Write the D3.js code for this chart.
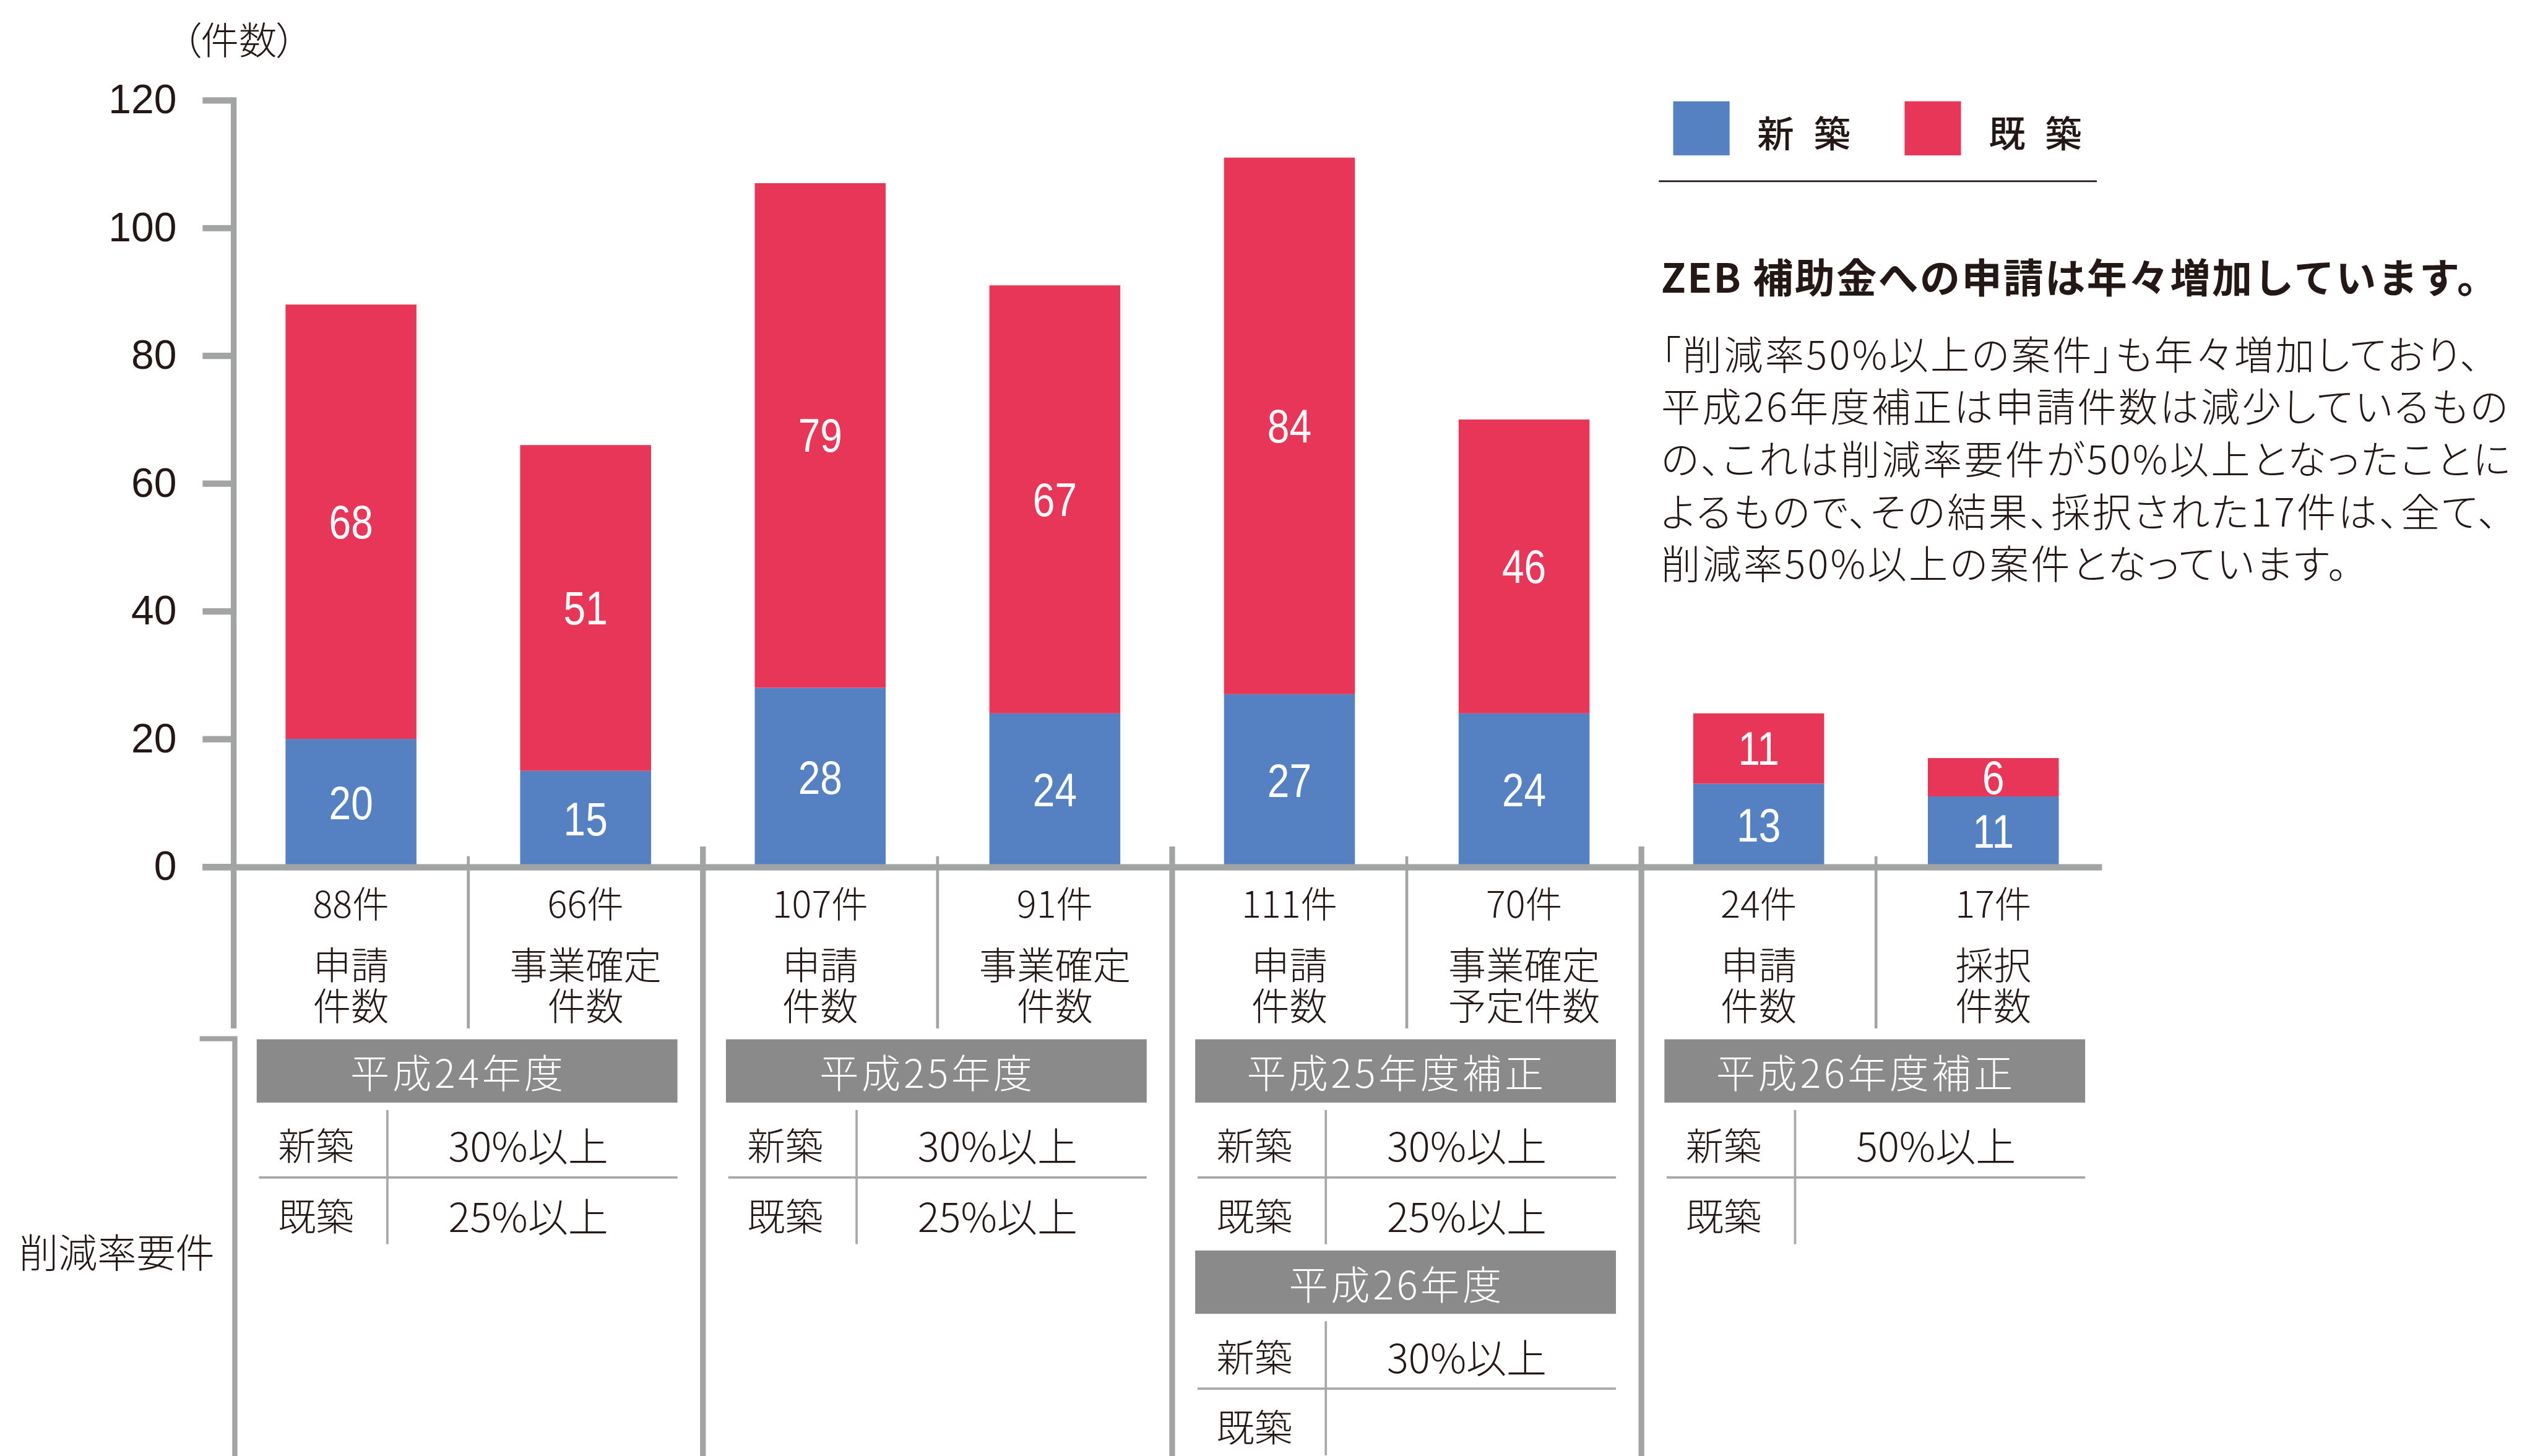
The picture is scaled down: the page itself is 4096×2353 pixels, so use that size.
<!DOCTYPE html>
<html>
<head>
<meta charset="UTF-8">
<script src="https://d3js.org/d3.v7.min.js"></script>
<style>
  body { margin: 0; background: #fff; }
  text { font-family: "Noto Sans CJK JP", sans-serif; fill: #231815; font-weight: 300; }
  .num { font-family: "Liberation Sans", Arial, sans-serif; font-weight: 400; }
  .palt { font-feature-settings: "palt"; }
</style>
</head>
<body>
<svg id="canvas"></svg>
<script>

width = 4096;
height = 2353;
k = 0.93;   // reference is 4404 wide, draw at 0.93

// bar data
totals = [88, 66, 107, 91, 111, 70, 24, 17];
newBuild = [20, 15, 28, 24, 27, 24, 13, 11];
existing = [68, 51, 79, 67, 84, 46, 11, 6];
colLabels = [["申請","件数"], ["事業確定","件数"], ["申請","件数"], ["事業確定","件数"],
             ["申請","件数"], ["事業確定","予定件数"], ["申請","件数"], ["採択","件数"]];
yTicks = [0, 20, 40, 60, 80, 100, 120];
seriesNames = ["新築", "既築"];
colors = ["#5580c1", "#e73658"];

// requirement table
periods = ["平成24年度", "平成25年度", "平成25年度補正", "平成26年度", "平成26年度補正"];
periodGroup = [0, 1, 2, 2, 3];
periodSlot = [0, 0, 0, 1, 0];
reqNew = ["30%以上", "30%以上", "30%以上", "30%以上", "50%以上"];
reqExisting = ["25%以上", "25%以上", "25%以上", "", ""];
rowNames = ["新築", "既築"];

note = ["「削減率50%以上の案件」も年々増加しており、",
        "平成26年度補正は申請件数は減少しているもの",
        "の、これは削減率要件が50%以上となったことに",
        "よるもので、その結果、採択された17件は、全て、",
        "削減率50%以上の案件となっています。"];
title = "ZEB 補助金への申請は年々増加しています。";

grey = "#a2a3a3";

svg = d3.select("#canvas").attr("width", width).attr("height", height);
canvas = svg.append("g").attr("transform", `scale(${k})`);

y = d3.scaleLinear().domain([0, 120]).range([1506, 174]);
colX = d3.scaleBand().domain(d3.range(8)).range([406, 3667]);
barW = colX.bandwidth() * 0.558;

rows = totals.map((t, i) => ({i: i, new: newBuild[i], old: existing[i]}));
stack = d3.stack().keys(["new", "old"])(rows);

// bars
layers = canvas.selectAll("g.layer").data(stack).join("g")
    .attr("class", "layer")
    .attr("fill", (d, i) => colors[i]);

layers.selectAll("rect").data(d => d).join("rect")
    .attr("x", d => colX(d.data.i) + (colX.bandwidth() - barW) / 2)
    .attr("y", d => y(d[1]))
    .attr("width", barW)
    .attr("height", d => y(d[0]) - y(d[1]));

layers.selectAll("text").data(d => d).join("text")
    .attr("class", "num")
    .attr("transform", d => `translate(${colX(d.data.i) + colX.bandwidth() / 2},${(y(d[0]) + y(d[1])) / 2}) scale(0.84,1)`)
    .attr("text-anchor", "middle")
    .attr("dominant-baseline", "central")
    .style("fill", "#fff")
    .style("font-size", "82px")
    .text(d => d[1] - d[0]);

// y axis
yAxis = canvas.append("g")
    .attr("transform", "translate(406,0)")
    .call(d3.axisLeft(y).tickValues(yTicks).tickSize(54).tickPadding(45).tickSizeOuter(0));
yAxis.select(".domain").remove();
yAxis.selectAll(".tick line").attr("stroke", grey).attr("stroke-width", 11);
yAxis.selectAll(".tick text")
    .attr("class", "num")
    .style("font-size", "71px")
    .style("fill", "#231815");

canvas.append("line")
    .attr("x1", 406).attr("x2", 406).attr("y1", y(120) - 5).attr("y2", 1787)
    .attr("stroke", grey).attr("stroke-width", 10);

// x axis line
canvas.append("line")
    .attr("x1", 352).attr("x2", 3652).attr("y1", y(0) + 1).attr("y2", y(0) + 1)
    .attr("stroke", grey).attr("stroke-width", 11);

// column separators
d3.range(1, 8).forEach(i => {
    const thick = i % 2 === 0;
    canvas.append("line")
        .attr("x1", colX(i)).attr("x2", colX(i))
        .attr("y1", thick ? 1471 : 1488).attr("y2", thick ? 2530 : 1787)
        .attr("stroke", grey).attr("stroke-width", thick ? 10 : 5);
});

// bracket for 削減率要件
canvas.append("path")
    .attr("d", "M347,1805H408V2530")
    .attr("fill", "none").attr("stroke", grey).attr("stroke-width", 9);

// column labels
totals.forEach((t, i) => {
    const cx = colX(i) + colX.bandwidth() / 2;
    canvas.append("text")
        .attr("x", cx).attr("y", 1567)
        .attr("text-anchor", "middle").attr("dominant-baseline", "central")
        .style("font-size", "64px")
        .text(t + "件");
    colLabels[i].forEach((s, j) => {
        canvas.append("text")
            .attr("x", cx).attr("y", 1674 + j * 71)
            .attr("text-anchor", "middle").attr("dominant-baseline", "central")
            .style("font-size", "66px")
            .text(s);
    });
});

// requirement blocks
periods.forEach((p, b) => {
    const gx = colX(periodGroup[b] * 2);
    const dy = periodSlot[b] * 367;
    const blk = canvas.append("g");
    blk.append("rect")
        .attr("x", gx + 40).attr("y", 1806 + dy)
        .attr("width", 731).attr("height", 110)
        .attr("fill", "#8a8a8a");
    blk.append("text")
        .attr("x", gx + 40 + 350).attr("y", 1861 + dy)
        .attr("text-anchor", "middle").attr("dominant-baseline", "central")
        .style("font-size", "68px").style("letter-spacing", "5px")
        .style("fill", "#fff")
        .text(p);
    blk.append("line")
        .attr("x1", gx + 267).attr("x2", gx + 267)
        .attr("y1", 1929 + dy).attr("y2", 2162 + dy)
        .attr("stroke", "#a8a8a8").attr("stroke-width", 4);
    blk.append("line")
        .attr("x1", gx + 44).attr("x2", gx + 771)
        .attr("y1", 2046 + dy).attr("y2", 2046 + dy)
        .attr("stroke", "#a8a8a8").attr("stroke-width", 4);
    [reqNew[b], reqExisting[b]].forEach((v, r) => {
        blk.append("text")
            .attr("x", gx + 77).attr("y", 1988 + r * 122 + dy)
            .attr("dominant-baseline", "central")
            .style("font-size", "66px")
            .text(rowNames[r]);
        blk.append("text")
            .attr("x", gx + 512).attr("y", 1988 + r * 122 + dy)
            .attr("text-anchor", "middle").attr("dominant-baseline", "central")
            .style("font-size", "70px")
            .text(v);
    });
});

canvas.append("text")
    .attr("x", 33).attr("y", 2173)
    .attr("dominant-baseline", "central")
    .style("font-size", "68px")
    .text("削減率要件");

// unit label
canvas.append("text")
    .attr("class", "palt")
    .attr("x", 316).attr("y", 66)
    .attr("dominant-baseline", "central")
    .style("font-size", "66px")
    .text("（件数）");

// legend
legend = canvas.append("g").selectAll("g").data(seriesNames).join("g")
    .attr("transform", (d, i) => `translate(${2907 + i * 402},176)`);
legend.append("rect")
    .attr("width", 98).attr("height", 94)
    .attr("fill", (d, i) => colors[i]);
legend.append("text")
    .attr("x", 146).attr("y", 52)
    .attr("dominant-baseline", "central")
    .style("font-size", "64px").style("font-weight", 500)
    .style("letter-spacing", "34px")
    .text(d => d);
canvas.append("line")
    .attr("x1", 2882).attr("x2", 3643).attr("y1", 315).attr("y2", 315)
    .attr("stroke", "#231815").attr("stroke-width", 3);

// commentary
canvas.append("text")
    .attr("x", 2886).attr("y", 478)
    .attr("dominant-baseline", "central")
    .style("font-size", "70px").style("font-weight", "bold")
    .style("letter-spacing", "2.5px")
    .text(title);

canvas.append("g").selectAll("text").data(note).join("text")
    .attr("class", "palt")
    .attr("x", 2886)
    .attr("y", (d, i) => 612 + i * 91)
    .attr("dominant-baseline", "central")
    .style("font-size", "68px")
    .style("letter-spacing", "3.5px")
    .text(d => d);

</script>
</body>
</html>
